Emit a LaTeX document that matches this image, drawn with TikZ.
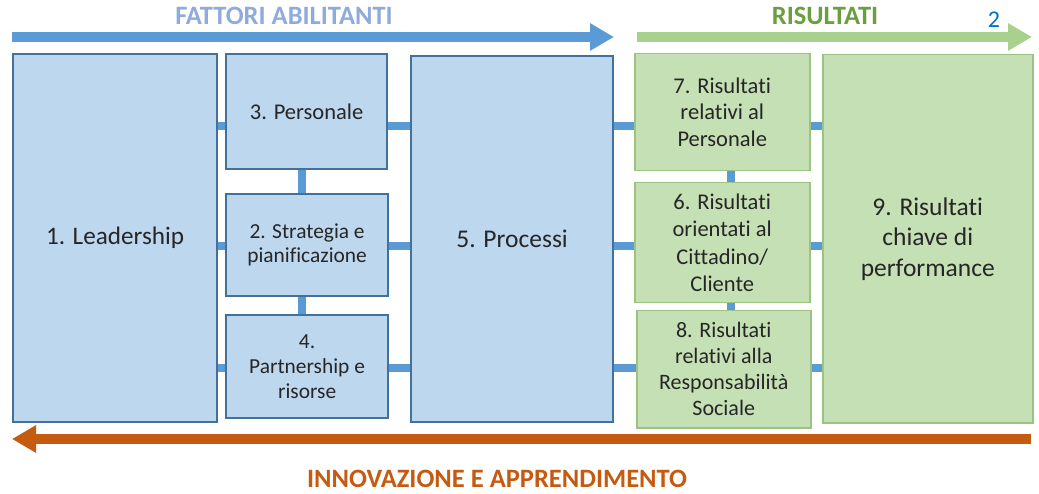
\documentclass[tikz,border=0pt]{standalone}
\usepackage{fontspec}
\setmainfont{Carlito}[Ligatures=NoCommon]
\usetikzlibrary{arrows.meta}
\definecolor{bfill}{HTML}{BDD7EE}
\definecolor{bline}{HTML}{41719C}
\definecolor{gfill}{HTML}{C5E0B4}
\definecolor{gline}{HTML}{9DC383}
\definecolor{conncol}{HTML}{5B9BD5}
\definecolor{garrow}{HTML}{A9D18E}
\definecolor{oarrow}{HTML}{C55A11}
\definecolor{ttblue}{HTML}{8FAADC}
\definecolor{ttgreen}{HTML}{6A9E3E}
\definecolor{txt}{HTML}{262626}
\definecolor{numblue}{HTML}{0070C0}
\tikzset{
  bbox/.style={draw=bline, fill=bfill, line width=2.2pt, inner sep=0pt, align=center, text=txt, anchor=north west},
  gbox/.style={draw=gline, fill=gfill, line width=1.5pt, inner sep=0pt, align=center, text=txt, anchor=north west},
  conn/.style={draw=conncol, line width=8pt},
  bigarrow/.style={line width=10pt, -{Triangle[length=24pt,width=26pt]}},
  ttl/.style={font=\bfseries\fontsize{26.5}{30}\selectfont, inner sep=0pt}
}
\begin{document}
\begin{tikzpicture}[x=1pt,y=-1pt]
\useasboundingbox (0,0) rectangle (1039,494);
% titles
\node[ttl, text=ttblue] (tfa) at (284,16) {FATTORI ABILITANTI};
\node[ttl, text=ttgreen] (tris) at (825,16) {RISULTATI};
\node[ttl, text=oarrow] (tinn) at (497,479) {INNOVAZIONE E APPRENDIMENTO};
\node[text=numblue, font=\fontsize{24}{28}\selectfont, inner sep=0pt] (num) at (994,20) {2};
% top / bottom arrows
\coordinate (ba1) at (12,37); \coordinate (ba2) at (614,37);
\coordinate (ga1) at (637,37); \coordinate (ga2) at (1032,37);
\coordinate (oa1) at (1031,439); \coordinate (oa2) at (12,439);
\draw[bigarrow, draw=conncol, fill=conncol] (ba1) -- (ba2);
\draw[bigarrow, draw=garrow, fill=garrow] (ga1) -- (ga2);
\draw[bigarrow, draw=oarrow, fill=oarrow] (oa1) -- (oa2);
% boxes
\node[bbox, minimum width=204pt, minimum height=368pt, font=\fontsize{25.2}{30}\selectfont] (L) at (12,53) {1. Leadership};
\node[bbox, minimum width=161pt, minimum height=115pt, font=\fontsize{22.5}{26}\selectfont] (P3) at (225,53) {3. Personale};
\node[bbox, minimum width=162pt, minimum height=102pt, font=\fontsize{21.4}{24}\selectfont] (P2) at (225,193) {2. Strategia e\\pianificazione};
\node[bbox, minimum width=162pt, minimum height=103pt, font=\fontsize{21.4}{25}\selectfont] (P4) at (225,314) {4.\\Partnership e\\risorse};
\node[bbox, minimum width=202pt, minimum height=366pt, font=\fontsize{25.5}{30}\selectfont] (P5) at (410,55) {5. Processi};
\node[gbox, minimum width=175pt, minimum height=117pt, font=\fontsize{22.5}{26.5}\selectfont] (R7) at (634,53) {7. Risultati\\relativi al\\Personale};
\node[gbox, minimum width=175pt, minimum height=120pt, font=\fontsize{22.5}{27.5}\selectfont] (R6) at (634,182) {6. Risultati\\orientati al\\Cittadino/\\Cliente};
\node[gbox, minimum width=174pt, minimum height=117pt, font=\fontsize{22}{26}\selectfont] (R8) at (636,310) {8. Risultati\\relativi alla\\Responsabilità\\Sociale};
\node[gbox, minimum width=210pt, minimum height=368pt, font=\fontsize{25.5}{30.5}\selectfont] (R9) at (822,54) {9. Risultati\\chiave di\\performance};
% connector rows
\coordinate (r1) at (0,126); \coordinate (r2) at (0,246); \coordinate (r3) at (0,368);
\coordinate (c1) at (302,0); \coordinate (c2) at (731,0);
\draw[conn] (L.east |- r1) -- (P3.west |- r1);
\draw[conn] (L.east |- r2) -- (P2.west |- r2);
\draw[conn] (L.east |- r3) -- (P4.west |- r3);
\draw[conn] (P3.east |- r1) -- (P5.west |- r1);
\draw[conn] (P2.east |- r2) -- (P5.west |- r2);
\draw[conn] (P4.east |- r3) -- (P5.west |- r3);
\draw[conn] (P5.east |- r1) -- (R7.west |- r1);
\draw[conn] (P5.east |- r2) -- (R6.west |- r2);
\draw[conn] (P5.east |- r3) -- (R8.west |- r3);
\draw[conn] (R7.east |- r1) -- (R9.west |- r1);
\draw[conn] (R6.east |- r2) -- (R9.west |- r2);
\draw[conn] (R8.east |- r3) -- (R9.west |- r3);
\draw[conn] (P3.south -| c1) -- (P2.north -| c1);
\draw[conn] (P2.south -| c1) -- (P4.north -| c1);
\draw[conn] (R7.south -| c2) -- (R6.north -| c2);
\draw[conn] (R6.south -| c2) -- (R8.north -| c2);
\end{tikzpicture}
\end{document}
